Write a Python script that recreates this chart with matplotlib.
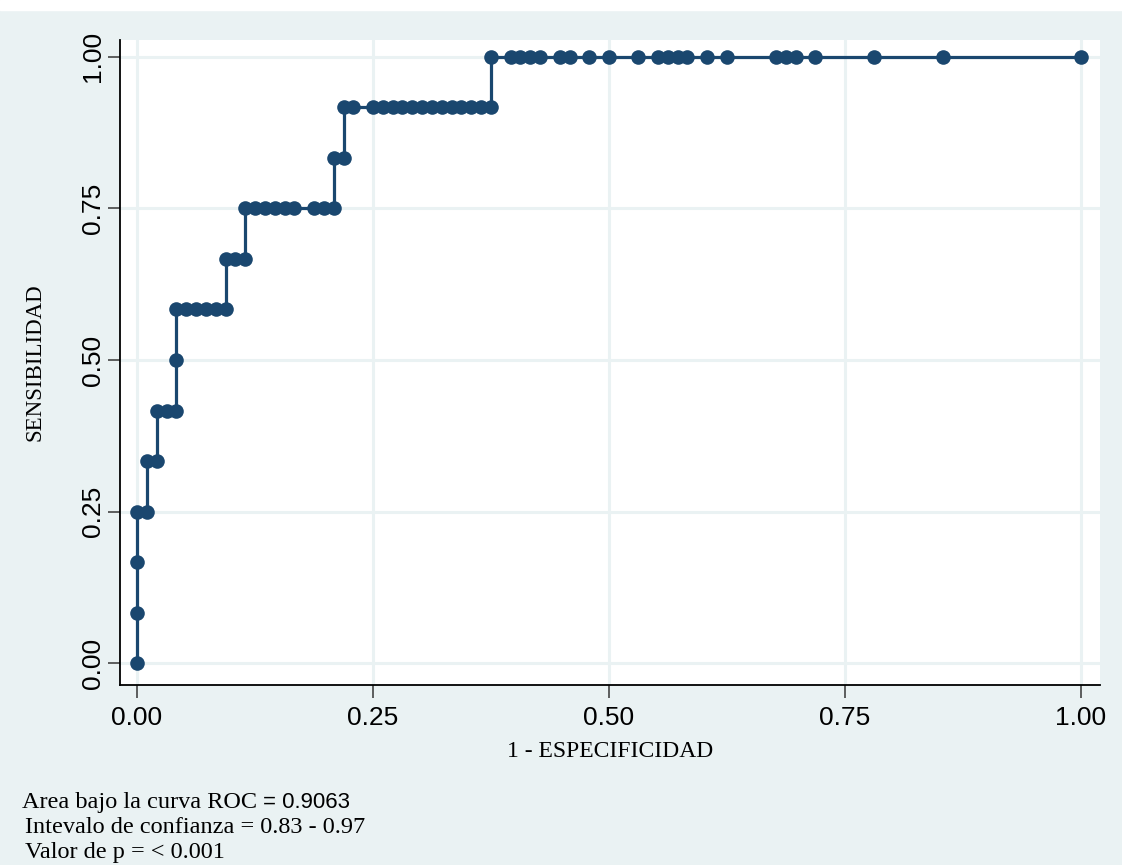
import matplotlib
matplotlib.use("Agg")
from matplotlib import pyplot as plt
from matplotlib.patches import Rectangle

# ROC curve points (1 - especificidad, sensibilidad)
fpr = [0.0, 0.0, 0.0, 0.0, 0.0104, 0.0104, 0.0208, 0.0208, 0.0313, 0.0417,
       0.0417, 0.0417, 0.0521, 0.0625, 0.0729, 0.0833, 0.0938, 0.0938, 0.1042,
       0.1146, 0.1146, 0.125, 0.1354, 0.1458, 0.1563, 0.1667, 0.1875, 0.1979,
       0.2083, 0.2083, 0.2188, 0.2188, 0.2292, 0.25, 0.2604, 0.2708, 0.2813,
       0.2917, 0.3021, 0.3125, 0.3229, 0.3333, 0.3438, 0.3542, 0.3646, 0.375,
       0.375, 0.3958, 0.4063, 0.4167, 0.4271, 0.4479, 0.4583, 0.4792, 0.5,
       0.5313, 0.5521, 0.5625, 0.5729, 0.5833, 0.6042, 0.625, 0.6771, 0.6875,
       0.6979, 0.7188, 0.7813, 0.8542, 1.0]
sens = [0.0, 0.0833, 0.1667, 0.25, 0.25, 0.3333, 0.3333, 0.4167, 0.4167, 0.4167,
        0.5, 0.5833, 0.5833, 0.5833, 0.5833, 0.5833, 0.5833, 0.6667, 0.6667,
        0.6667, 0.75, 0.75, 0.75, 0.75, 0.75, 0.75, 0.75, 0.75,
        0.75, 0.8333, 0.8333, 0.9167, 0.9167, 0.9167, 0.9167, 0.9167, 0.9167,
        0.9167, 0.9167, 0.9167, 0.9167, 0.9167, 0.9167, 0.9167, 0.9167, 0.9167,
        1.0, 1.0, 1.0, 1.0, 1.0, 1.0, 1.0, 1.0, 1.0,
        1.0, 1.0, 1.0, 1.0, 1.0, 1.0, 1.0, 1.0, 1.0,
        1.0, 1.0, 1.0, 1.0, 1.0]

ticks = [0, 0.25, 0.5, 0.75, 1.0]
tick_labels = ["0.00", "0.25", "0.50", "0.75", "1.00"]

navy = "#1A476F"
bg = "#EAF2F3"

fig = plt.figure(figsize=(11.22, 8.65), dpi=100, facecolor=bg)
fig.patches.append(Rectangle((0, 0.988), 1, 0.012, transform=fig.transFigure,
                             color="white", zorder=0))

ax = fig.add_axes([0.107, 0.208, 0.873, 0.746])
ax.set_facecolor("white")

ax.plot(fpr, sens, color=navy, lw=2.3, marker="o", markersize=10.5,
        markeredgewidth=0, zorder=3)

ax.set_xlim(-0.018, 1.020)
ax.set_ylim(-0.036, 1.028)
ax.set_xticks(ticks)
ax.set_xticklabels(tick_labels)
ax.set_yticks(ticks)
ax.set_yticklabels(tick_labels, rotation=90, va="center")
ax.grid(True, color=bg, lw=2.2, zorder=0)

for s in ["top", "right"]:
    ax.spines[s].set_visible(False)
for s in ["left", "bottom"]:
    ax.spines[s].set_color("black")
    ax.spines[s].set_linewidth(1.3)

ax.tick_params(axis="both", direction="out", length=9, width=1.2,
               color="#444444", labelsize=19)
ax.tick_params(axis="x", pad=6)
ax.tick_params(axis="y", pad=1.5)
for lab in ax.get_xticklabels() + ax.get_yticklabels():
    lab.set_family("Liberation Sans")

ax.set_xlabel("1 - ESPECIFICIDAD", family="Liberation Serif", fontsize=17, labelpad=8)
ax.set_ylabel("SENSIBILIDAD", family="Liberation Serif", fontsize=16.5, labelpad=26)

# texto inferior
t1 = fig.text(0.0196, 0.0728, "Area bajo la curva ROC", family="Liberation Serif",
              fontsize=17.5, va="center")
fig.canvas.draw()
bb = t1.get_window_extent(renderer=fig.canvas.get_renderer())
fig.text((bb.x1 + 6) / fig.bbox.width, 0.0728, "= 0.9063", family="Liberation Sans",
         fontsize=16, va="center")
fig.text(0.0223, 0.0439, "Intevalo de confianza = 0.83 - 0.97", family="Liberation Serif",
         fontsize=17.5, va="center")
fig.text(0.0223, 0.0150, "Valor de p = < 0.001", family="Liberation Serif",
         fontsize=17.5, va="center")

fig.savefig("out.png", dpi=100, facecolor=bg)
